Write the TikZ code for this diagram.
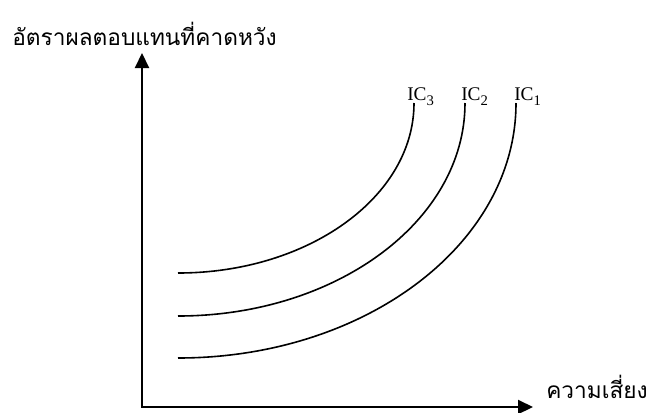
\documentclass[tikz,border=0pt]{standalone}
\usepackage{fontspec}
\setmainfont{Liberation Serif}
\newfontfamily\thaifont[Script=Thai]{Loma}
\usetikzlibrary{arrows.meta}
\tikzset{
  axis/.style={line width=1.6pt, -{Triangle[length=11.25pt,width=10.5pt]}},
  iccurve/.style={line width=1.2pt},
  thailabel/.style={anchor=base west, inner sep=0pt, font=\thaifont\fontsize{17}{19}\selectfont},
  iclabel/.style={anchor=base west, inner sep=0pt, font=\fontsize{14.5}{16}\selectfont},
}
\newcommand{\icsub}[1]{{\fontsize{11}{12}\selectfont\raisebox{-4pt}{#1}}}
\begin{document}
\begin{tikzpicture}[x=0.75pt,y=-0.75pt]
\useasboundingbox (0,0) rectangle (654,412);
\coordinate (O) at (142,407);
\coordinate (ytip) at (142,53);
\coordinate (xtip) at (533,407);
\draw[axis] (O) -- (ytip);
\draw[axis] (141,407) -- (xtip);
\node[thailabel] (ylab) at (12,45) {อัตราผลตอบแทนที่คาดหวัง};
\node[thailabel] (xlab) at (546,398) {ความเสี่ยง};
% curves
\coordinate (s3) at (178,273); \coordinate (e3) at (414,103);
\coordinate (s2) at (178,316); \coordinate (e2) at (465,103);
\coordinate (s1) at (178,358); \coordinate (e1) at (516,103);
\draw[iccurve] (s3) .. controls (308,273) and (414,197) .. (e3);
\draw[iccurve] (s2) .. controls (336,316) and (465,221) .. (e2);
\draw[iccurve] (s1) .. controls (365,358) and (516,244) .. (e1);
\node[iclabel] (ic3) at (407,100) {IC\icsub{3}};
\node[iclabel] (ic2) at (461,100) {IC\icsub{2}};
\node[iclabel] (ic1) at (514,100) {IC\icsub{1}};
\end{tikzpicture}
\end{document}
